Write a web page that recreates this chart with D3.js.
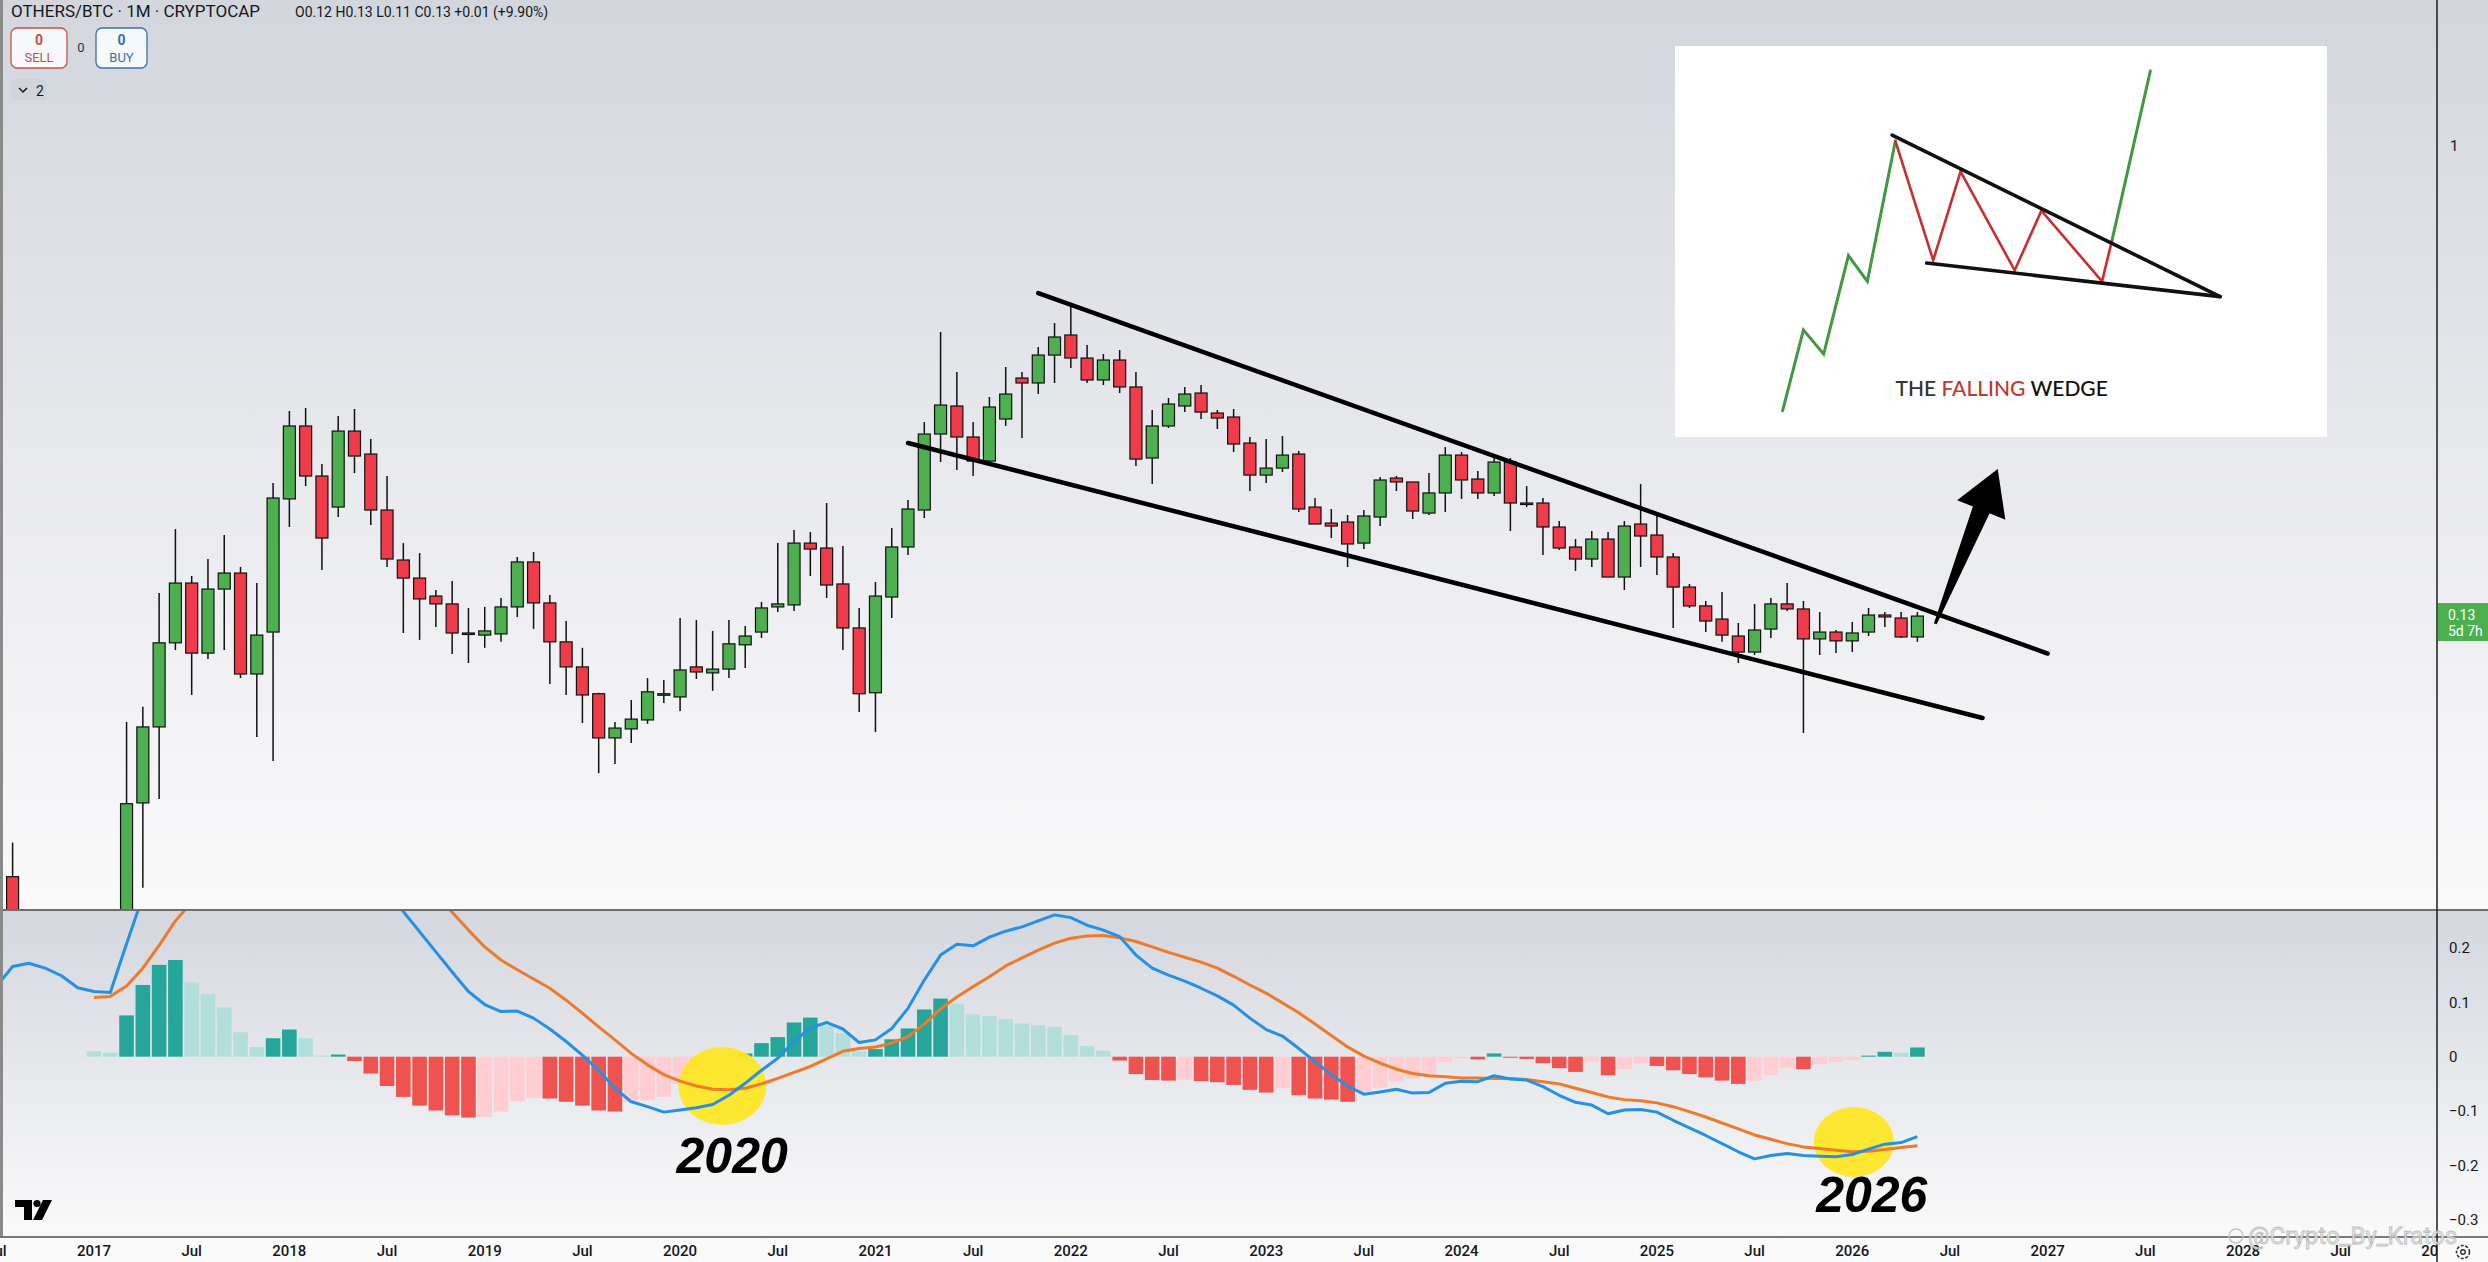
<!DOCTYPE html>
<html>
<head>
<meta charset="utf-8">
<title>OTHERS/BTC 1M</title>
<script src="https://cdn.jsdelivr.net/npm/d3@7"></script>
<style>
  html, body { margin: 0; padding: 0; background: #fff; overflow: hidden; }
  svg { display: block; }
</style>
</head>
<body>
<script>
// monthly candles Jul 2016 .. May 2026, null = bar sits below the visible pane
const firstMonth = "2016-07", lastMonth = "2026-05"

const open = [
  null, 0.0431, null, null, null, null,
  null, null, 0.031, 0.0592, 0.0821, 0.1179, 0.1525, 0.1128, 0.1486, 0.1592, 0.1031, 0.1235,
  0.2190, 0.2998, 0.2417, 0.2115, 0.2933, 0.2657, 0.2088, 0.1684, 0.1558, 0.1442, 0.1394, 0.1230,
  0.1219, 0.1225, 0.1376, 0.1670, 0.1400, 0.1184, 0.1063, 0.0947, 0.0783, 0.0814, 0.0846, 0.0942,
  0.0934, 0.1063, 0.1036, 0.1053, 0.1169, 0.1235, 0.1376, 0.1388, 0.1811, 0.1773, 0.1519, 0.1257,
  0.0951, 0.1436, 0.1781, 0.2088, 0.2896, 0.3267, 0.2859, 0.2578, 0.3089, 0.3685, 0.3607, 0.4068,
  0.4435, 0.4016, 0.3654, 0.3982, 0.3546, 0.2612, 0.2998, 0.3267, 0.3455, 0.3170, 0.3116, 0.2786,
  0.2427, 0.2501, 0.2657, 0.2115, 0.1974, 0.1983, 0.1811, 0.2026, 0.2396, 0.2356, 0.2061, 0.2247,
  0.2645, 0.2386, 0.2247, 0.2567, 0.2152, 0.2152, 0.1941, 0.1781, 0.1691, 0.1843, 0.1565, 0.1966,
  0.1875, 0.1706, 0.1499, 0.1382, 0.1306, 0.1214, 0.1133, 0.1251, 0.1394, 0.1364, 0.1199, 0.1235,
  0.1189, 0.1235, 0.1329, 0.1312, 0.1209
]
const high = [
  null, 0.0499, null, null, null, null,
  null, null, 0.0839, 0.0895, 0.1461, 0.1924, 0.1572, 0.1691, 0.1875, 0.1634, 0.1525, 0.2345,
  0.3197, 0.3239, 0.2545, 0.3129, 0.3225, 0.2834, 0.2417, 0.1811, 0.1735, 0.1480, 0.1538, 0.1370,
  0.1376, 0.1430, 0.1706, 0.1743, 0.1449, 0.1295, 0.1154, 0.0951, 0.0839, 0.0922, 0.1013, 0.1005,
  0.1312, 0.1301, 0.1241, 0.1301, 0.1268, 0.1406, 0.1811, 0.1916, 0.1900, 0.2152, 0.1788, 0.1370,
  0.1532, 0.1932, 0.2180, 0.3050, 0.4492, 0.3781, 0.3050, 0.3396, 0.3864, 0.3781, 0.4211, 0.4669,
  0.5002, 0.4248, 0.4086, 0.4157, 0.3781, 0.3211, 0.3382, 0.3546, 0.3576, 0.3211, 0.3225, 0.2859,
  0.2834, 0.2871, 0.2691, 0.2199, 0.2097, 0.2044, 0.2088, 0.2406, 0.2417, 0.2356, 0.2448, 0.2738,
  0.2680, 0.2469, 0.2612, 0.2612, 0.2315, 0.2199, 0.1991, 0.1843, 0.1908, 0.1900, 0.1991, 0.2335,
  0.2052, 0.1735, 0.1519, 0.1412, 0.1467, 0.1284, 0.1394, 0.1430, 0.1525, 0.1412, 0.1346, 0.1246,
  0.1290, 0.1370, 0.1346, 0.1346, 0.1346
]
const low = [
  null, 0.0314, null, null, null, null,
  null, null, 0.029, 0.0411, 0.0602, 0.1143, 0.0942, 0.1100, 0.1143, 0.1013, 0.0786, 0.0709,
  0.1941, 0.2315, 0.1613, 0.2026, 0.2448, 0.1957, 0.1634, 0.1230, 0.1194, 0.1262, 0.1124, 0.1081,
  0.1154, 0.1184, 0.1318, 0.1252, 0.0988, 0.0942, 0.0835, 0.0673, 0.0700, 0.0766, 0.0832, 0.0910,
  0.0879, 0.1009, 0.0959, 0.1013, 0.1058, 0.1204, 0.1346, 0.1352, 0.1572, 0.1430, 0.1143, 0.0875,
  0.0803, 0.1312, 0.1721, 0.2017, 0.2567, 0.2480, 0.2417, 0.2567, 0.2998, 0.2846, 0.3440, 0.3607,
  0.3847, 0.3607, 0.3576, 0.3455, 0.2523, 0.2335, 0.2972, 0.3183, 0.3089, 0.2959, 0.2680, 0.2266,
  0.2345, 0.2459, 0.2070, 0.1966, 0.1851, 0.1634, 0.1765, 0.1949, 0.2266, 0.2009, 0.2044, 0.2070,
  0.2190, 0.2190, 0.2218, 0.1908, 0.2115, 0.1721, 0.1758, 0.1606, 0.1634, 0.1565, 0.1480, 0.1634,
  0.1579, 0.1257, 0.1370, 0.1235, 0.1184, 0.1081, 0.1119, 0.1204, 0.1352, 0.0800, 0.1119, 0.1128,
  0.1133, 0.1214, 0.1262, 0.1204, 0.1184
]
const close = [
  null, 0.0343, null, null, null, null,
  null, null, 0.0590, 0.0821, 0.1179, 0.1525, 0.1128, 0.1486, 0.1592, 0.1031, 0.1219, 0.2199,
  0.2998, 0.2417, 0.1851, 0.2933, 0.2634, 0.2088, 0.1691, 0.1558, 0.1424, 0.1394, 0.1230, 0.1225,
  0.1241, 0.1376, 0.1670, 0.1400, 0.1184, 0.1063, 0.0942, 0.0783, 0.0817, 0.0849, 0.0955, 0.0947,
  0.1049, 0.1040, 0.1053, 0.1174, 0.1214, 0.1370, 0.1394, 0.1811, 0.1765, 0.1512, 0.1257, 0.0947,
  0.1442, 0.1781, 0.2097, 0.2896, 0.3281, 0.2859, 0.2578, 0.3253, 0.3440, 0.3607, 0.4068, 0.4397,
  0.4016, 0.3654, 0.3982, 0.3546, 0.2600, 0.2998, 0.3295, 0.3440, 0.3183, 0.3102, 0.2774, 0.2427,
  0.2501, 0.2645, 0.2097, 0.1966, 0.1949, 0.1804, 0.2035, 0.2376, 0.2356, 0.2079, 0.2247, 0.2645,
  0.2376, 0.2247, 0.2567, 0.2152, 0.2143, 0.1941, 0.1773, 0.1691, 0.1843, 0.1565, 0.1949, 0.1867,
  0.1706, 0.1499, 0.1382, 0.1295, 0.1219, 0.1133, 0.1246, 0.1394, 0.1364, 0.1199, 0.1235, 0.1189,
  0.1230, 0.1329, 0.1318, 0.1209, 0.1323
]

// MACD pane, same months
const macdLine = [
  0.129, 0.166, 0.172, 0.163, 0.149, 0.127,
  0.120, 0.118, 0.208, 0.295, 0.374, 0.428, 0.421, 0.428, 0.427, 0.392, 0.370, 0.394,
  0.423, 0.415, 0.384, 0.387, 0.373, 0.342, 0.306, 0.267, 0.230, 0.193, 0.156, 0.120,
  0.096, 0.083, 0.084, 0.071, 0.051, 0.028, 0.003, -0.025, -0.058, -0.083, -0.092, -0.102,
  -0.098, -0.094, -0.088, -0.071, -0.049, -0.025, -0.003, 0.028, 0.053, 0.063, 0.051, 0.026,
  0.031, 0.052, 0.089, 0.141, 0.187, 0.207, 0.204, 0.220, 0.231, 0.239, 0.250, 0.261,
  0.256, 0.242, 0.233, 0.221, 0.187, 0.163, 0.150, 0.139, 0.126, 0.112, 0.095, 0.071,
  0.050, 0.038, 0.015, -0.009, -0.033, -0.054, -0.069, -0.065, -0.060, -0.067, -0.066, -0.049,
  -0.045, -0.046, -0.035, -0.041, -0.043, -0.055, -0.071, -0.084, -0.089, -0.105, -0.098, -0.097,
  -0.102, -0.117, -0.131, -0.145, -0.160, -0.175, -0.188, -0.182, -0.178, -0.182, -0.183, -0.184,
  -0.180, -0.170, -0.161, -0.158, -0.147
]
const signalLine = [
  null, null, null, null, null, null,
  0.109, 0.111, 0.130, 0.163, 0.205, 0.250, 0.284, 0.313, 0.336, 0.347, 0.352, 0.360,
  0.373, 0.381, 0.382, 0.383, 0.381, 0.373, 0.360, 0.341, 0.319, 0.294, 0.266, 0.233,
  0.202, 0.178, 0.160, 0.143, 0.126, 0.104, 0.080, 0.055, 0.031, 0.006, -0.015, -0.033,
  -0.045, -0.054, -0.060, -0.061, -0.058, -0.050, -0.040, -0.029, -0.018, -0.004, 0.010, 0.015,
  0.018, 0.025, 0.037, 0.060, 0.088, 0.110, 0.129, 0.147, 0.167, 0.182, 0.196, 0.209,
  0.218, 0.222, 0.223, 0.219, 0.212, 0.202, 0.192, 0.183, 0.174, 0.163, 0.148, 0.132,
  0.117, 0.099, 0.081, 0.060, 0.039, 0.018, 0.001, -0.012, -0.023, -0.031, -0.035, -0.037,
  -0.039, -0.039, -0.040, -0.040, -0.042, -0.046, -0.050, -0.058, -0.066, -0.074, -0.079, -0.081,
  -0.085, -0.092, -0.101, -0.111, -0.122, -0.133, -0.144, -0.152, -0.160, -0.166, -0.169, -0.172,
  -0.175, -0.174, -0.171, -0.167, -0.164
]
const histogram = [
  null, null, null, null, null, null,
  0.0104, 0.0074, 0.076, 0.132, 0.169, 0.178, 0.137, 0.115, 0.091, 0.045, 0.018, 0.034,
  0.050, 0.034, 0.002, 0.004, -0.008, -0.031, -0.054, -0.074, -0.090, -0.099, -0.108, -0.112,
  -0.111, -0.101, -0.082, -0.076, -0.077, -0.083, -0.090, -0.099, -0.101, -0.083, -0.080, -0.074,
  -0.050, -0.028, -0.015, -0.009, 0.006, 0.025, 0.036, 0.063, 0.072, 0.058, 0.043, 0.010,
  0.014, 0.032, 0.052, 0.087, 0.107, 0.098, 0.078, 0.075, 0.069, 0.061, 0.058, 0.055,
  0.040, 0.020, 0.011, -0.007, -0.032, -0.043, -0.044, -0.042, -0.045, -0.047, -0.052, -0.061,
  -0.066, -0.058, -0.071, -0.077, -0.079, -0.083, -0.064, -0.057, -0.046, -0.040, -0.031, -0.010,
  -0.003, -0.005, 0.006, -0.001, -0.004, -0.012, -0.021, -0.028, -0.009, -0.034, -0.023, -0.012,
  -0.017, -0.025, -0.032, -0.038, -0.044, -0.050, -0.044, -0.034, -0.021, -0.023, -0.014, -0.010,
  -0.006, 0.002, 0.009, 0.007, 0.017
]

// time axis
const tickMonths = ["2016-07","2017-01","2017-07","2018-01","2018-07","2019-01","2019-07","2020-01","2020-07",
  "2021-01","2021-07","2022-01","2022-07","2023-01","2023-07","2024-01","2024-07","2025-01","2025-07",
  "2026-01","2026-07","2027-01","2027-07","2028-01","2028-07","2029-01"]
const tickLabels = ["Jul","2017","Jul","2018","Jul","2019","Jul","2020","Jul","2021","Jul","2022","Jul",
  "2023","Jul","2024","Jul","2025","Jul","2026","Jul","2027","Jul","2028","Jul","2029"]
const priceTicks = [1]
const macdTicks = [0.2, 0.1, 0, -0.1, -0.2, -0.3]

// drawings (date, value)
const upperTrend = [["2021-11", 0.531], ["2027-01", 0.1126]]
const lowerTrend = [["2021-03", 0.2786], ["2026-09", 0.0853]]
const arrowFrom = ["2026-06-04", 0.128], arrowTo = ["2026-09-29", 0.249]
const highlights = [
  {label: "2020", spot: ["2020-03-19", -0.054], text: ["2020-04-07", -0.214]},
  {label: "2026", spot: ["2026-01-04", -0.157], text: ["2026-02-07", -0.285]}
]

// falling wedge sketch, 0..100 box units
const wedgeRise  = [[16.5,93.3],[19.7,72.6],[22.8,78.8],[26.6,53.6],[29.5,60.2],[33.8,24.3]]
const wedgeSwing = [[33.8,24.3],[39.6,54.8],[43.8,32.1],[52.1,57.4],[56.2,42.1],[65.5,60.2],[67.0,49.9]]
const wedgeBreak = [[67.0,49.9],[72.9,6.4]]
const wedgeUpper = [[33.3,22.8],[83.6,64.1]]
const wedgeLower = [[38.6,55.5],[83.6,64.1]]

let w = 2488, h = 1262
let axisX = 2437, priceBottom = 909, macdTop = 911, macdBottom = 1236
let font = "Roboto, 'Liberation Sans', sans-serif"

const parseMonth = d3.utcParse("%Y-%m"), parseDay = d3.utcParse("%Y-%m-%d")
const toDate = s => s.length > 7 ? parseDay(s) : parseMonth(s)
const idx = d => (d.getUTCFullYear() - 2017) * 12 + d.getUTCMonth() + (d.getUTCDate() - 1) / 30
const monthIdx = s => idx(toDate(s))

const months = d3.utcMonth.range(parseMonth(firstMonth), d3.utcMonth.offset(parseMonth(lastMonth), 1))

let x = d3.scaleLinear().domain([0, 132]).range([94, 2243])
let yP = d3.scaleLog().domain([0.0375, 1.875]).range([priceBottom, 0])
let yM = d3.scaleLinear().domain([-0.33, 0.27]).range([macdBottom, 910])

let svg = d3.select('body').append('svg').attr('width', w).attr('height', h)
let defs = svg.append('defs')

function grad(id, stops) {
  let g = defs.append('linearGradient').attr('id', id).attr('x1', 0).attr('y1', 0).attr('x2', 0).attr('y2', 1)
  stops.forEach(s => g.append('stop').attr('offset', s[0]).attr('stop-color', s[1]))
}
grad('bgPrice', [[0, '#d3d6dd'], [0.5, '#e8e9ed'], [1, '#fafafb']])
grad('bgMacd', [[0, '#d4d7de'], [1, '#fafafb']])

function clip(id, x0, y0, cw, ch) {
  defs.append('clipPath').attr('id', id).append('rect').attr('x', x0).attr('y', y0).attr('width', cw).attr('height', ch)
}
clip('cPrice', 0, 0, axisX, priceBottom)
clip('cMacd', 0, macdTop, axisX, macdBottom - macdTop)
clip('cTime', 0, macdBottom, axisX, h - macdBottom)

// backgrounds
svg.append('rect').attr('width', w).attr('height', priceBottom).attr('fill', 'url(#bgPrice)')
svg.append('rect').attr('y', macdTop).attr('width', w).attr('height', macdBottom - macdTop).attr('fill', 'url(#bgMacd)')
svg.append('rect').attr('y', macdBottom).attr('width', w).attr('height', h - macdBottom).attr('fill', '#fafafa')

// ---- price pane
let candles = months.map((d, i) => ({d, o: open[i], h: high[i], l: low[i], c: close[i]})).filter(k => k.o != null)
let gP = svg.append('g').attr('clip-path', 'url(#cPrice)')
let bodyW = 12

gP.selectAll('line.wick')
  .data(candles)
  .enter()
  .append('line')
  .attr('class', 'wick')
  .attr('x1', k => x(idx(k.d)))
  .attr('x2', k => x(idx(k.d)))
  .attr('y1', k => yP(k.h))
  .attr('y2', k => yP(k.l))
  .attr('stroke', '#111')
  .attr('stroke-width', 1.5)

gP.selectAll('rect.body')
  .data(candles)
  .enter()
  .append('rect')
  .attr('class', 'body')
  .attr('x', k => x(idx(k.d)) - bodyW / 2)
  .attr('y', k => yP(Math.max(k.o, k.c)))
  .attr('width', bodyW)
  .attr('height', k => Math.max(1.5, Math.abs(yP(k.o) - yP(k.c))))
  .attr('fill', k => k.c >= k.o ? '#4caf50' : '#ef3b4a')
  .attr('stroke', '#111')
  .attr('stroke-width', 1.2)

// trend lines
let trend = d3.line().x(p => x(monthIdx(p[0]))).y(p => yP(p[1]))
;[upperTrend, lowerTrend].forEach(t => {
  gP.append('path').attr('d', trend(t)).attr('fill', 'none').attr('stroke', '#000')
    .attr('stroke-width', 4.5).attr('stroke-linecap', 'round')
})

// breakout arrow
{
  let bx = x(monthIdx(arrowFrom[0])), by = yP(arrowFrom[1])
  let tx = x(monthIdx(arrowTo[0])), ty = yP(arrowTo[1])
  let len = Math.hypot(tx - bx, ty - by), ux = (tx - bx) / len, uy = (ty - by) / len
  let nx = -uy, ny = ux
  let wx = tx - ux * 44, wy = ty - uy * 44
  let pts = [
    [bx - nx * 1.5, by - ny * 1.5], [wx - nx * 9, wy - ny * 9], [wx - nx * 26, wy - ny * 26],
    [tx, ty], [wx + nx * 26, wy + ny * 26], [wx + nx * 9, wy + ny * 9], [bx + nx * 1.5, by + ny * 1.5]
  ]
  svg.append('path').attr('d', 'M' + pts.map(p => p.join(',')).join('L') + 'Z').attr('fill', '#000')
}

// falling wedge picture
{
  let bx0 = 1675, by0 = 46, bw = 652, bh = 391
  svg.append('rect').attr('x', bx0).attr('y', by0).attr('width', bw).attr('height', bh).attr('fill', '#fff')
  let ix = d3.scaleLinear().domain([0, 100]).range([bx0, bx0 + bw])
  let iy = d3.scaleLinear().domain([0, 100]).range([by0, by0 + bh])
  let ln = d3.line().x(p => ix(p[0])).y(p => iy(p[1]))
  let seg = (pts, col, sw) => svg.append('path').attr('d', ln(pts)).attr('fill', 'none').attr('stroke', col)
    .attr('stroke-width', sw).attr('stroke-linejoin', 'miter').attr('stroke-linecap', 'round')
  seg(wedgeRise, '#3e9a3e', 3)
  seg(wedgeBreak, '#3e9a3e', 3)
  seg(wedgeSwing, '#c7302f', 2.6)
  seg(wedgeUpper, '#111', 3.6)
  seg(wedgeLower, '#111', 3.6)
  let t = svg.append('text').attr('x', ix(50.1)).attr('y', iy(89.5)).attr('text-anchor', 'middle')
    .attr('font-family', "Lato, 'Open Sans', sans-serif").attr('font-size', 21).attr('font-weight', 500)
  t.append('tspan').text('THE ').attr('fill', '#333')
  t.append('tspan').text('FALLING ').attr('fill', '#c0392b')
  t.append('tspan').text('WEDGE').attr('fill', '#111')
}

// ---- MACD pane
let gM = svg.append('g').attr('clip-path', 'url(#cMacd)')
let histData = months.map((d, i) => ({d, v: histogram[i], prev: i > 0 && histogram[i - 1] != null ? histogram[i - 1] : histogram[i]}))
  .filter(k => k.v != null)
let histColor = k => k.v >= 0 ? (k.v > k.prev ? '#26a69a' : '#b2dfdb') : (k.v < k.prev ? '#ef5350' : '#ffcdd2')
let barW = 14.6

gM.selectAll('rect.hist')
  .data(histData)
  .enter()
  .append('rect')
  .attr('class', 'hist')
  .attr('x', k => x(idx(k.d)) - barW / 2)
  .attr('y', k => yM(Math.max(0, k.v)))
  .attr('width', barW)
  .attr('height', k => Math.max(1, Math.abs(yM(k.v) - yM(0))))
  .attr('fill', histColor)

highlights.forEach(n => {
  gM.append('ellipse').attr('cx', x(monthIdx(n.spot[0]))).attr('cy', yM(n.spot[1]))
    .attr('rx', n.label == '2020' ? 44 : 40).attr('ry', n.label == '2020' ? 39 : 35).attr('fill', '#ffe61f').attr('opacity', 0.92)
})

let mline = arr => d3.line().defined(i => arr[i] != null).x(i => x(idx(months[i]))).y(i => yM(arr[i]))(d3.range(months.length))
gM.append('path').attr('d', mline(signalLine)).attr('fill', 'none').attr('stroke', '#ef7b2a').attr('stroke-width', 3).attr('stroke-linejoin', 'round')
gM.append('path').attr('d', mline(macdLine)).attr('fill', 'none').attr('stroke', '#2491e6').attr('stroke-width', 3).attr('stroke-linejoin', 'round')

highlights.forEach(n => {
  svg.append('text').attr('x', x(monthIdx(n.text[0]))).attr('y', yM(n.text[1])).attr('text-anchor', 'middle')
    .attr('font-family', "'Liberation Sans', Arial, sans-serif").attr('font-weight', 'bold').attr('font-style', 'italic')
    .attr('font-size', 50).attr('fill', '#000').text(n.label)
})

// ---- frame lines
svg.append('line').attr('x1', 0).attr('x2', w).attr('y1', 910).attr('y2', 910).attr('stroke', '#6e6e6e').attr('stroke-width', 2)
svg.append('line').attr('x1', 0).attr('x2', w).attr('y1', macdBottom + 1).attr('y2', macdBottom + 1).attr('stroke', '#7a7a7a').attr('stroke-width', 2)
svg.append('line').attr('x1', axisX).attr('x2', axisX).attr('y1', 0).attr('y2', h).attr('stroke', '#1d1d1d').attr('stroke-width', 1.5)
svg.append('line').attr('x1', 1.5).attr('x2', 1.5).attr('y1', 0).attr('y2', macdBottom).attr('stroke', '#8a8a8a').attr('stroke-width', 3)

// ---- right axes
let axisText = (g) => g.attr('font-family', font).attr('font-size', 15).attr('fill', '#131722')
priceTicks.forEach(v => {
  svg.append('text').attr('x', 2450).attr('y', yP(v)).attr('dy', '0.35em').text(v).call(axisText)
})
let fmt = d3.format('.1~f')
macdTicks.forEach(v => {
  svg.append('text').attr('x', 2449).attr('y', yM(v)).attr('dy', '0.35em').text(fmt(v)).call(axisText)
})

// last price label
{
  let ly = yP(close[close.length - 1])
  svg.append('rect').attr('x', axisX + 1).attr('y', ly - 13).attr('width', w - axisX).attr('height', 38).attr('fill', '#4caf50')
  svg.append('text').attr('x', 2448).attr('y', ly + 4).text('0.13').attr('font-family', font).attr('font-size', 14).attr('fill', '#fff')
  svg.append('text').attr('x', 2448).attr('y', ly + 20).text('5d 7h').attr('font-family', font).attr('font-size', 14).attr('fill', '#fff')
}

// ---- time axis
svg.append('g').attr('clip-path', 'url(#cTime)')
  .selectAll('text')
  .data(tickMonths)
  .enter()
  .append('text')
  .attr('x', s => x(monthIdx(s)))
  .attr('y', 1256)
  .attr('text-anchor', 'middle')
  .attr('font-family', font)
  .attr('font-size', 15)
  .attr('font-weight', 500)
  .attr('fill', '#131722')
  .text((s, i) => tickLabels[i])

// gear
svg.append('circle').attr('cx', 2463).attr('cy', 1252).attr('r', 6.5).attr('fill', 'none').attr('stroke', '#333').attr('stroke-width', 1.6).attr('stroke-dasharray', '3 1.6')
svg.append('circle').attr('cx', 2463).attr('cy', 1252).attr('r', 2.3).attr('fill', 'none').attr('stroke', '#333').attr('stroke-width', 1.4)

// ---- header
svg.append('text').attr('x', 11).attr('y', 17).attr('font-family', font).attr('font-size', 17).attr('fill', '#131722')
  .text('OTHERS/BTC · 1M · CRYPTOCAP')
svg.append('text').attr('x', 295).attr('y', 17).attr('font-family', font).attr('font-size', 14).attr('fill', '#131722')
  .text('O0.12 H0.13 L0.11 C0.13 +0.01 (+9.90%)')

function tradeBox(x0, bw, col, label) {
  svg.append('rect').attr('x', x0).attr('y', 28).attr('width', bw).attr('height', 40).attr('rx', 6)
    .attr('fill', '#f7f8fa').attr('stroke', col).attr('stroke-width', 1.3)
  svg.append('text').attr('x', x0 + bw / 2).attr('y', 45).attr('text-anchor', 'middle').attr('font-family', font)
    .attr('font-size', 14).attr('font-weight', 'bold').attr('fill', col).text('0')
  svg.append('text').attr('x', x0 + bw / 2).attr('y', 62).attr('text-anchor', 'middle').attr('font-family', font)
    .attr('font-size', 13).attr('fill', col).text(label)
}
tradeBox(11, 56, '#c9504f', 'SELL')
tradeBox(96, 51, '#3b6fb0', 'BUY')
svg.append('text').attr('x', 81).attr('y', 52).attr('text-anchor', 'middle').attr('font-family', font).attr('font-size', 13).attr('fill', '#333').text('0')

svg.append('rect').attr('x', 11).attr('y', 79).attr('width', 36).attr('height', 21).attr('rx', 3).attr('fill', '#cfd2d9').attr('opacity', 0.7)
svg.append('path').attr('d', 'M19,88 L23,92 L27,88').attr('fill', 'none').attr('stroke', '#131722').attr('stroke-width', 1.5)
svg.append('text').attr('x', 36).attr('y', 96).attr('font-family', font).attr('font-size', 14).attr('fill', '#131722').text('2')

// TV logo
svg.append('path').attr('d', 'M15,1200 H32 V1220 H24 V1207 H15 Z').attr('fill', '#000')
svg.append('circle').attr('cx', 37).attr('cy', 1203.5).attr('r', 3.6).attr('fill', '#000')
svg.append('path').attr('d', 'M43,1200 H52 L42,1220 H33 Z').attr('fill', '#000')

// watermark
svg.append('circle').attr('cx', 2236).attr('cy', 1236).attr('r', 7).attr('fill', 'none').attr('stroke', '#c4c4c4').attr('stroke-width', 1.5)
svg.append('text').attr('x', 2248).attr('y', 1244).attr('font-family', font).attr('font-size', 24)
  .attr('fill', '#e6e6e6').attr('stroke', '#b9b9b9').attr('stroke-width', 0.8).attr('opacity', 0.9)
  .text('@Crypto_By_Kratos')
</script>
</body>
</html>
